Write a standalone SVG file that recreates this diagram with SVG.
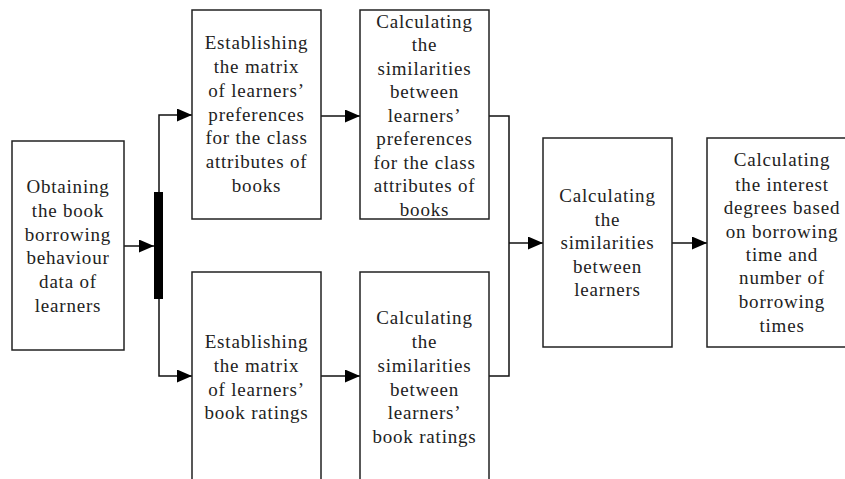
<svg xmlns="http://www.w3.org/2000/svg" width="845" height="479" viewBox="0 0 845 479">
<style>
.box{fill:#fff;stroke:#222;stroke-width:1.5}
.t{font-family:"Liberation Serif","Times New Roman",serif;font-size:19px;letter-spacing:0.8px;fill:#222;text-anchor:middle}
.c{fill:none;stroke:#111;stroke-width:1.5}
</style>
<defs>
<marker id="ah" markerUnits="userSpaceOnUse" markerWidth="16" markerHeight="14" refX="15" refY="6.5" orient="auto">
<path d="M0,0 L15,6.5 L0,13 z" fill="#000"/>
</marker>
</defs>
<g id="connectors">
<path class="c" d="M124,246 H154" marker-end="url(#ah)"/>
<rect x="154" y="192" width="9" height="107" fill="#000"/>
<path class="c" d="M159,192 V115 H192" marker-end="url(#ah)"/>
<path class="c" d="M159,299 V376 H192" marker-end="url(#ah)"/>
<path class="c" d="M321,116 H360" marker-end="url(#ah)"/>
<path class="c" d="M321,376 H360" marker-end="url(#ah)"/>
<path class="c" d="M489,116 H509 V376 H489"/>
<path class="c" d="M509,243 H543" marker-end="url(#ah)"/>
<path class="c" d="M672,243 H707" marker-end="url(#ah)"/>
</g>
<g id="n1">
<rect class="box" x="12" y="141" width="112" height="209"/>
<text class="t" x="68" y="193">Obtaining</text>
<text class="t" x="68" y="217">the book</text>
<text class="t" x="68" y="241">borrowing</text>
<text class="t" x="68" y="264">behaviour</text>
<text class="t" x="68" y="288">data of</text>
<text class="t" x="68" y="312">learners</text>
</g>
<g id="n2">
<rect class="box" x="192" y="10" width="129" height="209"/>
<text class="t" x="256.5" y="49">Establishing</text>
<text class="t" x="256.5" y="73">the matrix</text>
<text class="t" x="256.5" y="97">of learners’</text>
<text class="t" x="256.5" y="121">preferences</text>
<text class="t" x="256.5" y="144">for the class</text>
<text class="t" x="256.5" y="168">attributes of</text>
<text class="t" x="256.5" y="192">books</text>
</g>
<g id="n3">
<rect class="box" x="360" y="10" width="129" height="209"/>
<text class="t" x="424.5" y="28">Calculating</text>
<text class="t" x="424.5" y="51">the</text>
<text class="t" x="424.5" y="75">similarities</text>
<text class="t" x="424.5" y="98">between</text>
<text class="t" x="424.5" y="122">learners’</text>
<text class="t" x="424.5" y="145">preferences</text>
<text class="t" x="424.5" y="169">for the class</text>
<text class="t" x="424.5" y="192">attributes of</text>
<text class="t" x="424.5" y="216">books</text>
</g>
<g id="n4">
<rect class="box" x="192" y="272" width="129" height="212"/>
<text class="t" x="256.5" y="348">Establishing</text>
<text class="t" x="256.5" y="372">the matrix</text>
<text class="t" x="256.5" y="396">of learners’</text>
<text class="t" x="256.5" y="419">book ratings</text>
</g>
<g id="n5">
<rect class="box" x="360" y="272" width="129" height="212"/>
<text class="t" x="424.5" y="324">Calculating</text>
<text class="t" x="424.5" y="348">the</text>
<text class="t" x="424.5" y="372">similarities</text>
<text class="t" x="424.5" y="396">between</text>
<text class="t" x="424.5" y="419">learners’</text>
<text class="t" x="424.5" y="443">book ratings</text>
</g>
<g id="n6">
<rect class="box" x="543" y="138" width="129" height="209"/>
<text class="t" x="607.5" y="202">Calculating</text>
<text class="t" x="607.5" y="226">the</text>
<text class="t" x="607.5" y="249">similarities</text>
<text class="t" x="607.5" y="273">between</text>
<text class="t" x="607.5" y="296">learners</text>
</g>
<g id="n7">
<rect class="box" x="707" y="138" width="150" height="209"/>
<text class="t" x="782" y="166">Calculating</text>
<text class="t" x="782" y="191">the interest</text>
<text class="t" x="782" y="214">degrees based</text>
<text class="t" x="782" y="238">on borrowing</text>
<text class="t" x="782" y="261">time and</text>
<text class="t" x="782" y="284">number of</text>
<text class="t" x="782" y="308">borrowing</text>
<text class="t" x="782" y="332">times</text>
</g>
</svg>
